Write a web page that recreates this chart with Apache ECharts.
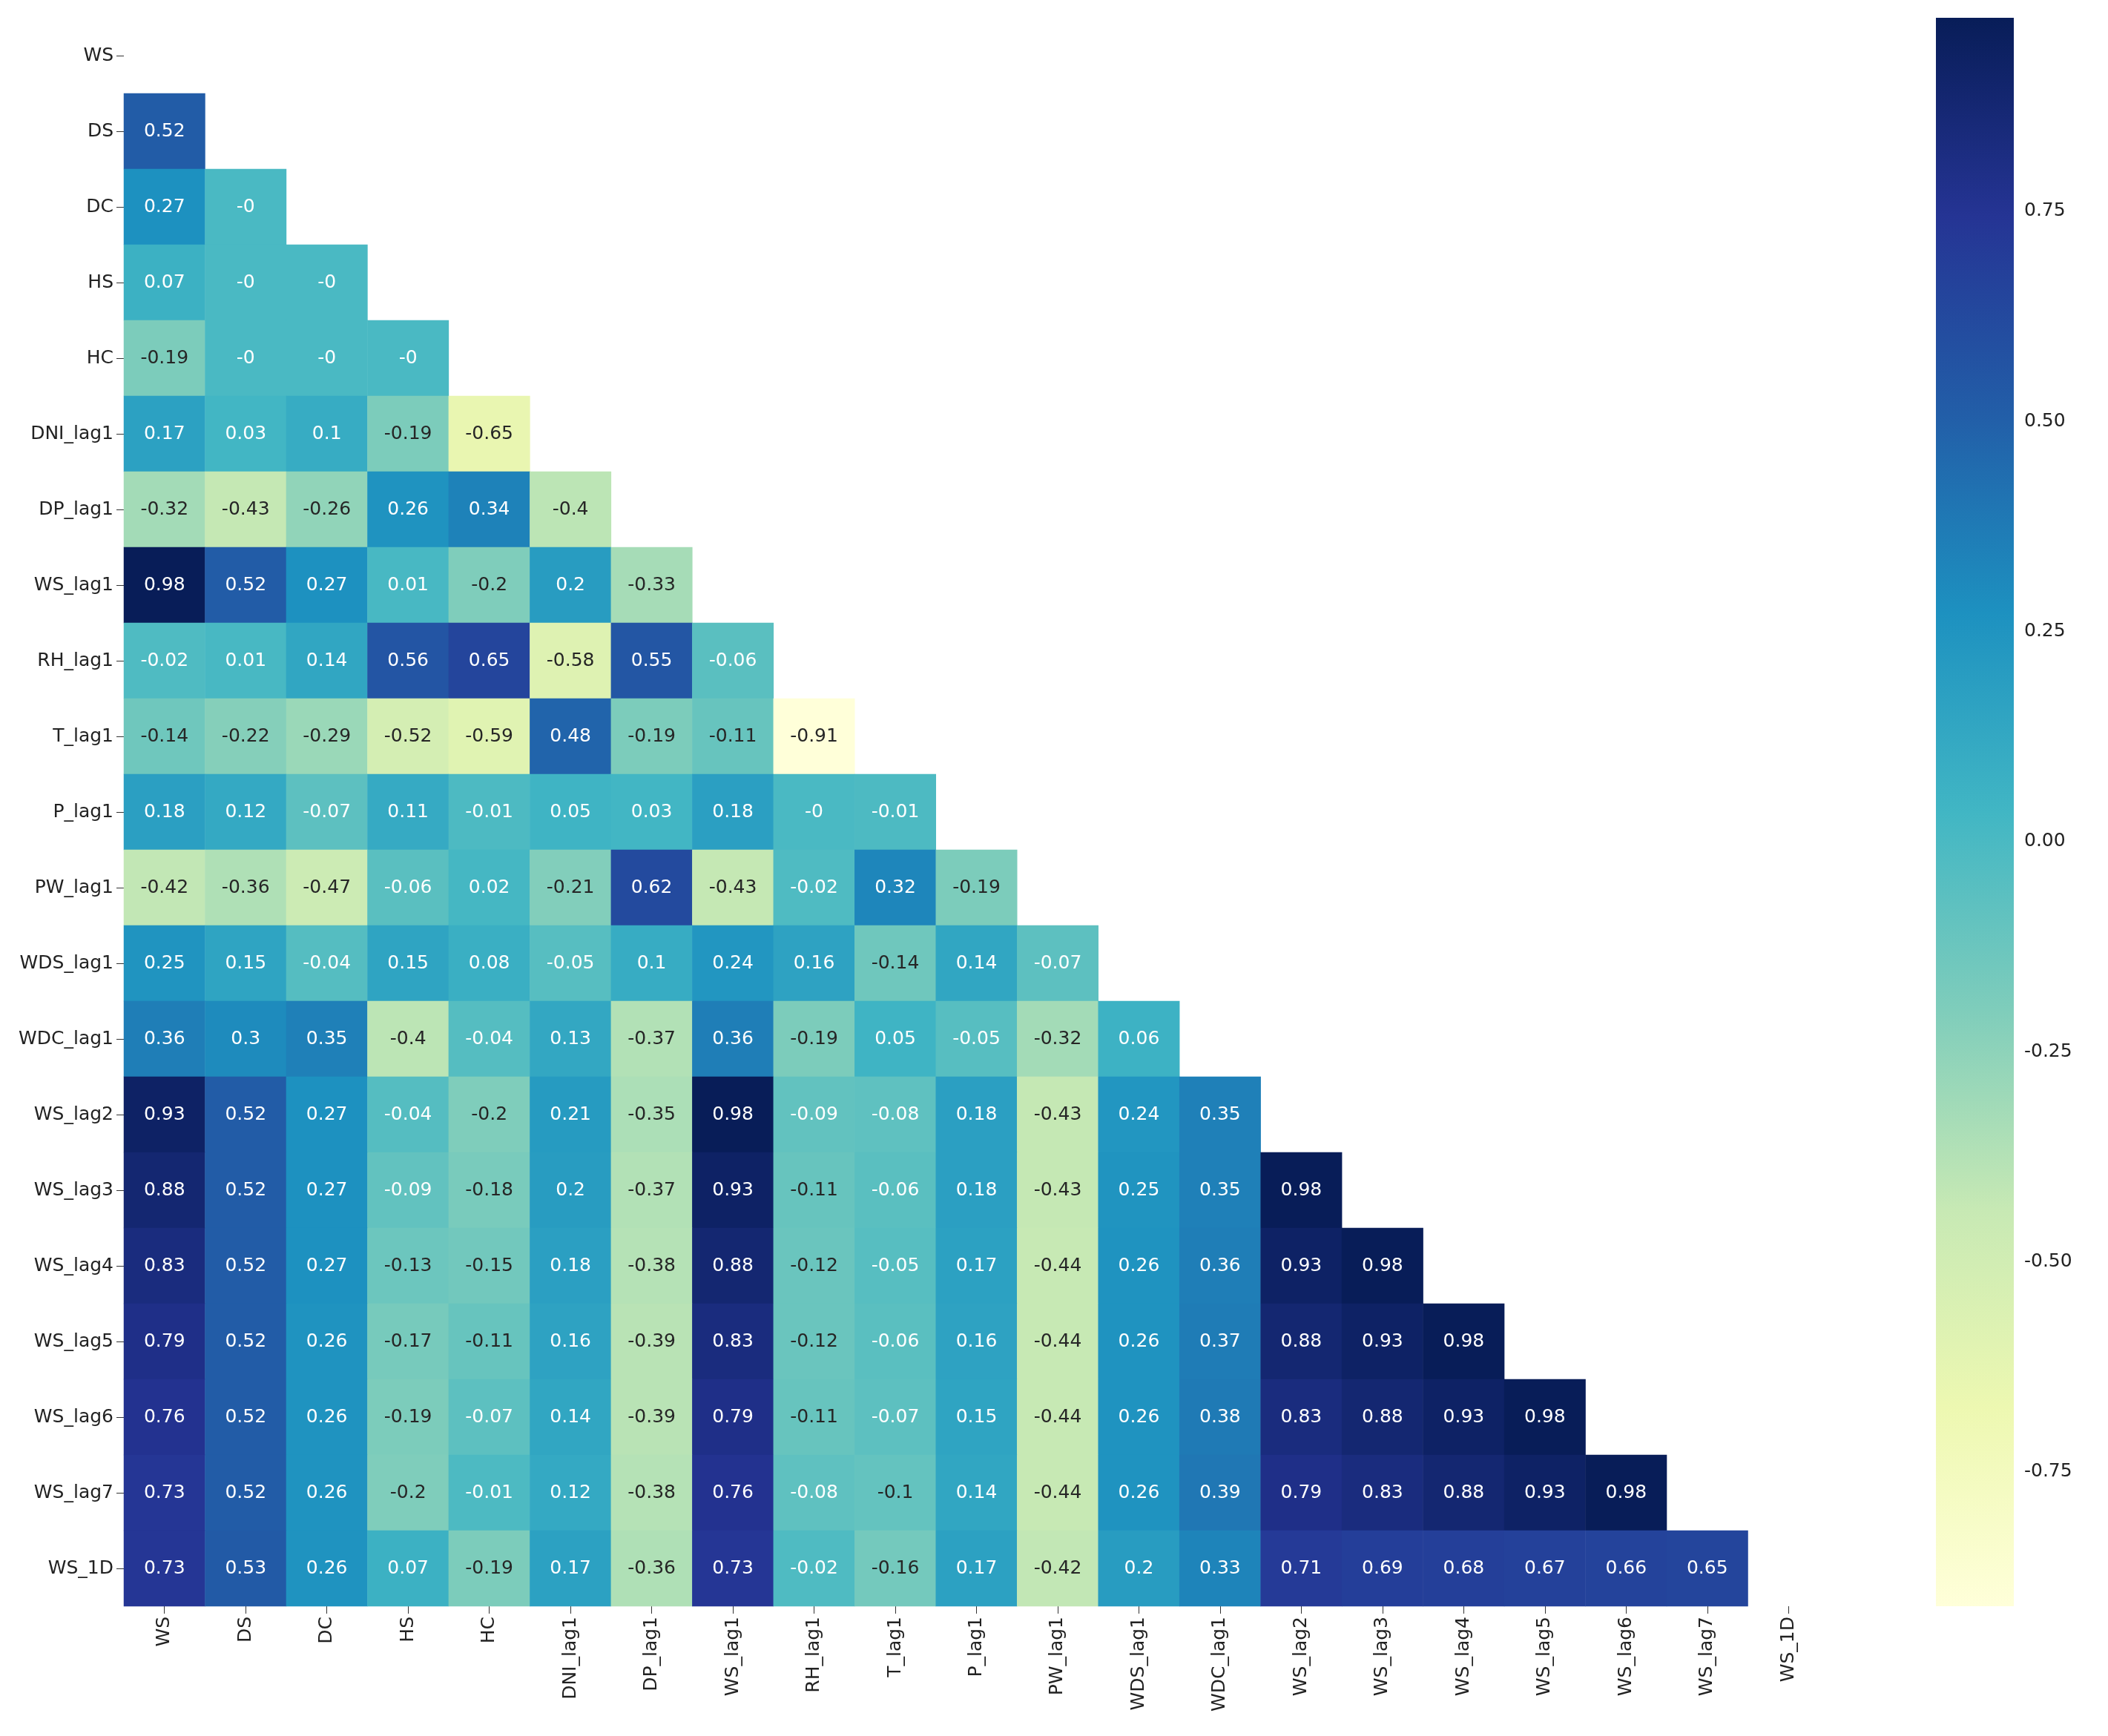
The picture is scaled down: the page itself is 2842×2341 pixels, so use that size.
<!DOCTYPE html>
<html><head><meta charset="utf-8">
<script src="https://cdn.jsdelivr.net/npm/echarts@6/dist/echarts.min.js"></script>
<style>html,body{margin:0;padding:0;background:#fff}#c{width:2842px;height:2341px}</style>
</head><body><div id="c"></div>
<script>
const categories = ['WS','DS','DC','HS','HC','DNI_lag1','DP_lag1','WS_lag1','RH_lag1','T_lag1','P_lag1','PW_lag1','WDS_lag1','WDC_lag1','WS_lag2','WS_lag3','WS_lag4','WS_lag5','WS_lag6','WS_lag7','WS_1D'];
const rows = [
 [],
 [0.52],
 [0.27,-0],
 [0.07,-0,-0],
 [-0.19,-0,-0,-0],
 [0.17,0.03,0.1,-0.19,-0.65],
 [-0.32,-0.43,-0.26,0.26,0.34,-0.4],
 [0.98,0.52,0.27,0.01,-0.2,0.2,-0.33],
 [-0.02,0.01,0.14,0.56,0.65,-0.58,0.55,-0.06],
 [-0.14,-0.22,-0.29,-0.52,-0.59,0.48,-0.19,-0.11,-0.91],
 [0.18,0.12,-0.07,0.11,-0.01,0.05,0.03,0.18,-0,-0.01],
 [-0.42,-0.36,-0.47,-0.06,0.02,-0.21,0.62,-0.43,-0.02,0.32,-0.19],
 [0.25,0.15,-0.04,0.15,0.08,-0.05,0.1,0.24,0.16,-0.14,0.14,-0.07],
 [0.36,0.3,0.35,-0.4,-0.04,0.13,-0.37,0.36,-0.19,0.05,-0.05,-0.32,0.06],
 [0.93,0.52,0.27,-0.04,-0.2,0.21,-0.35,0.98,-0.09,-0.08,0.18,-0.43,0.24,0.35],
 [0.88,0.52,0.27,-0.09,-0.18,0.2,-0.37,0.93,-0.11,-0.06,0.18,-0.43,0.25,0.35,0.98],
 [0.83,0.52,0.27,-0.13,-0.15,0.18,-0.38,0.88,-0.12,-0.05,0.17,-0.44,0.26,0.36,0.93,0.98],
 [0.79,0.52,0.26,-0.17,-0.11,0.16,-0.39,0.83,-0.12,-0.06,0.16,-0.44,0.26,0.37,0.88,0.93,0.98],
 [0.76,0.52,0.26,-0.19,-0.07,0.14,-0.39,0.79,-0.11,-0.07,0.15,-0.44,0.26,0.38,0.83,0.88,0.93,0.98],
 [0.73,0.52,0.26,-0.2,-0.01,0.12,-0.38,0.76,-0.08,-0.1,0.14,-0.44,0.26,0.39,0.79,0.83,0.88,0.93,0.98],
 [0.73,0.53,0.26,0.07,-0.19,0.17,-0.36,0.73,-0.02,-0.16,0.17,-0.42,0.2,0.33,0.71,0.69,0.68,0.67,0.66,0.65]
];
const colorTicks = [-0.75,-0.5,-0.25,0,0.25,0.5,0.75];
const vMin = -0.91, vMax = 0.98;
const palette = ['#ffffd9','#edf8b1','#c7e9b4','#7fcdbb','#41b6c4','#1d91c0','#225ea8','#253494','#081d58'];

const data = [];
rows.forEach((r, yi) => r.forEach((v, xi) => {
  data.push({value:[xi, yi, v], label:{color: v > -0.1 ? '#ffffff' : '#262626'}});
}));
const fmt = v => Object.is(v,-0) ? '-0' : String(v);
const chart = echarts.init(document.getElementById('c'));
const font = 'DejaVu Sans';
chart.setOption({
  animation:false,
  textStyle:{fontFamily:font},
  visualMap:{show:false, min:vMin, max:vMax, seriesIndex:0, dimension:2, inRange:{color:palette}},
  grid:[{left:167, top:24, width:2299, height:2142},
        {left:2610, top:24, width:105, height:2142}],
  xAxis:[{type:'category', data:categories, gridIndex:0, position:'bottom',
          axisLine:{show:false}, splitLine:{show:false},
          axisTick:{show:true, alignWithLabel:true, length:10, lineStyle:{color:'#333'}},
          axisLabel:{rotate:90, fontSize:25, color:'#222', margin:14, interval:0}},
         {type:'value', gridIndex:1, min:0, max:1, show:false}],
  yAxis:[{type:'category', data:categories, inverse:true, gridIndex:0,
          axisLine:{show:false}, splitLine:{show:false},
          axisTick:{show:true, alignWithLabel:true, length:10, lineStyle:{color:'#333'}},
          axisLabel:{fontSize:25, color:'#222', margin:14, interval:0}},
         {type:'value', gridIndex:1, min:vMin, max:vMax, position:'right',
          axisLine:{show:false}, splitLine:{show:false},
          axisTick:{show:true, length:10, customValues:colorTicks, lineStyle:{color:'#333'}},
          axisLabel:{fontSize:25, color:'#222', margin:14, customValues:colorTicks, formatter:v=>v.toFixed(2)}}],
  series:[
    {type:'heatmap', xAxisIndex:0, yAxisIndex:0, data:data,
     label:{show:true, fontSize:25, fontFamily:font, formatter:p=>fmt(p.value[2])},
     itemStyle:{borderWidth:0}},
    {type:'custom', xAxisIndex:1, yAxisIndex:1, data:[[0, vMin, vMax]],
     renderItem:(params, api)=>{
       const p0 = api.coord([0, api.value(2)]);
       const p1 = api.coord([1, api.value(1)]);
       return {type:'rect', shape:{x:p0[0], y:p0[1], width:p1[0]-p0[0], height:p1[1]-p0[1]},
         style:{fill:new echarts.graphic.LinearGradient(0,1,0,0,
           palette.map((c,i)=>({offset:i/(palette.length-1), color:c})))}};
     }}
  ]
});
</script></body></html>
